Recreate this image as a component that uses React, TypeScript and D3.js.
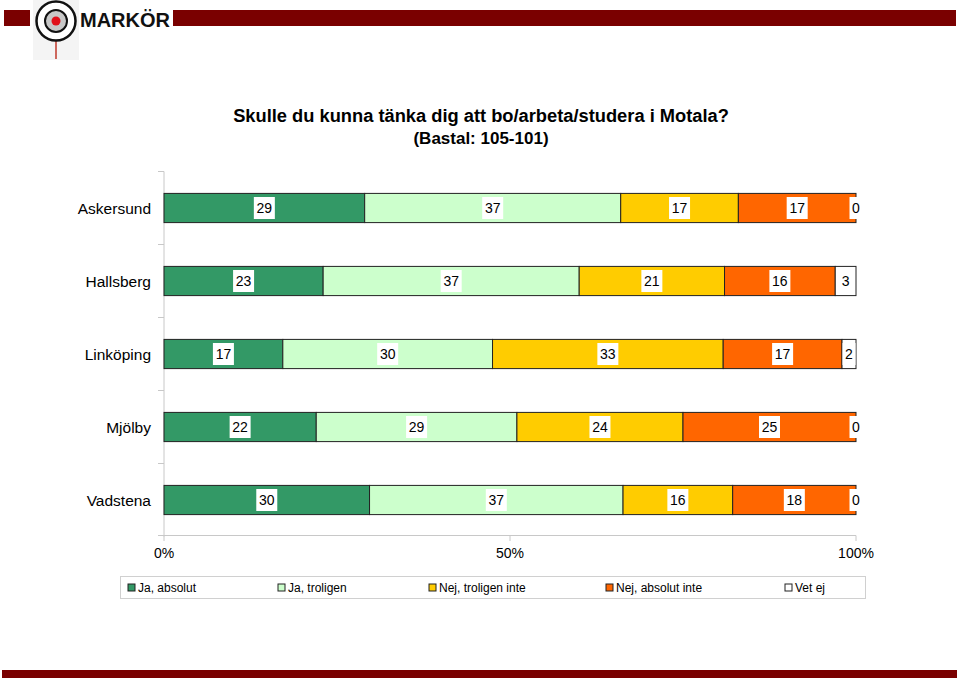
import React, { useRef, useEffect } from "react";
import * as d3 from "d3";

// answer categories (series) and towns
const seriesNames = ["Ja, absolut", "Ja, troligen", "Nej, troligen inte", "Nej, absolut inte", "Vet ej"];
const seriesColors = ["#339966", "#CCFFCC", "#FFCC00", "#FF6600", "#FFFFFF"];
const towns = ["Askersund", "Hallsberg", "Linköping", "Mjölby", "Vadstena"];

// percentages per town, in series order
const askersund = [29, 37, 17, 17, 0];
const hallsberg = [23, 37, 21, 16, 3];
const linkoping = [17, 30, 33, 17, 2];
const mjolby = [22, 29, 24, 25, 0];
const vadstena = [30, 37, 16, 18, 0];

const xTicks = [0, 0.5, 1];

const W = 960;
const H = 681;
const FONT = "'Liberation Sans', Arial, sans-serif";

export default function App() {
  const svgRef = useRef<SVGSVGElement>(null);

  useEffect(() => {
    const svg = d3.select(svgRef.current);
    svg.selectAll("*").remove();

    const rows = [askersund, hallsberg, linkoping, mjolby, vadstena].map((vals, i) => {
      const r: any = { town: towns[i] };
      seriesNames.forEach((s, j) => (r[s] = vals[j]));
      return r;
    });

    // stacked 100% - each row normalised to its own sum
    const stacked = d3.stack<any>().keys(seriesNames).offset(d3.stackOffsetExpand)(rows);

    const x = d3.scaleLinear().domain([0, 1]).range([164, 856]);
    const y = d3.scaleBand().domain(towns).range([171.5, 536.5]).paddingInner(0.6).paddingOuter(0.3);
    const step = y.step();

    // header
    svg.append("rect").attr("x", 4).attr("y", 10).attr("width", 26).attr("height", 16).attr("fill", "#7a0000");
    svg.append("rect").attr("x", 173).attr("y", 10).attr("width", 783).attr("height", 16).attr("fill", "#7a0000");
    svg.append("rect").attr("x", 33).attr("y", 0).attr("width", 46).attr("height", 60).attr("fill", "#f4f4f4");
    svg.append("line").attr("x1", 56).attr("x2", 56).attr("y1", 22).attr("y2", 59).attr("stroke", "#c0392b").attr("stroke-width", 1.5);
    svg.append("circle").attr("cx", 56).attr("cy", 21).attr("r", 19.5).attr("fill", "#fff").attr("stroke", "#111").attr("stroke-width", 2.5);
    svg.append("circle").attr("cx", 56).attr("cy", 21).attr("r", 11).attr("fill", "#c8c8c8").attr("stroke", "#111").attr("stroke-width", 2);
    svg.append("circle").attr("cx", 56).attr("cy", 21).attr("r", 4.5).attr("fill", "#e0101a");
    svg.append("text").attr("x", 80).attr("y", 27).attr("font-family", FONT).attr("font-weight", "bold")
      .attr("font-size", 20).attr("textLength", 90).attr("fill", "#111").text("MARKÖR");

    // footer bar
    svg.append("rect").attr("x", 2).attr("y", 670).attr("width", 955).attr("height", 8).attr("fill", "#7a0000");

    // titles
    svg.append("text").attr("x", 481).attr("y", 122).attr("text-anchor", "middle").attr("font-family", FONT)
      .attr("font-weight", "bold").attr("font-size", 18.3).text("Skulle du kunna tänka dig att bo/arbeta/studera i Motala?");
    svg.append("text").attr("x", 481).attr("y", 144).attr("text-anchor", "middle").attr("font-family", FONT)
      .attr("font-weight", "bold").attr("font-size", 17).text("(Bastal: 105-101)");

    // axes
    const axisColor = "#c8c8c8";
    svg.append("line").attr("x1", 164).attr("x2", 164).attr("y1", 171.5).attr("y2", 536.5).attr("stroke", axisColor);
    towns.forEach((t, i) => {
      const yy = 171.5 + i * step;
      svg.append("line").attr("x1", 158).attr("x2", 164).attr("y1", yy).attr("y2", yy).attr("stroke", axisColor);
    });
    svg.append("line").attr("x1", 158).attr("x2", 856).attr("y1", 535.5).attr("y2", 535.5).attr("stroke", axisColor);
    xTicks.forEach((t) => {
      svg.append("line").attr("x1", x(t)).attr("x2", x(t)).attr("y1", 535.5).attr("y2", 541).attr("stroke", axisColor);
      svg.append("text").attr("x", x(t)).attr("y", 558).attr("text-anchor", "middle").attr("font-family", FONT)
        .attr("font-size", 14).text(d3.format(".0%")(t));
    });

    // town labels
    svg.append("g").selectAll("text").data(towns).join("text")
      .attr("x", 151).attr("y", (d) => y(d)! + y.bandwidth() / 2 + 5.5)
      .attr("text-anchor", "end").attr("font-family", FONT).attr("font-size", 15.5).text((d) => d);

    // bars
    const layers = svg.append("g").selectAll("g").data(stacked).join("g")
      .attr("fill", (d, i) => seriesColors[i]);
    layers.selectAll("rect").data((d) => d).join("rect")
      .attr("x", (d) => x(d[0])).attr("y", (d: any) => y(d.data.town)!)
      .attr("width", (d) => x(d[1]) - x(d[0])).attr("height", y.bandwidth())
      .attr("stroke", "#222").attr("stroke-width", 1);

    // value labels
    stacked.forEach((layer, i) => {
      layer.forEach((d: any) => {
        const v = d.data[seriesNames[i]];
        const cx = (x(d[0]) + x(d[1])) / 2;
        const cy = y(d.data.town)! + y.bandwidth() / 2;
        const txt = String(v);
        const tw = txt.length * 8 + 5;
        svg.append("rect").attr("x", cx - tw / 2).attr("y", cy - 11).attr("width", tw).attr("height", 22).attr("fill", "#fff");
        svg.append("text").attr("x", cx).attr("y", cy + 5).attr("text-anchor", "middle").attr("font-family", FONT)
          .attr("font-size", 14).text(txt);
      });
    });

    // legend
    svg.append("rect").attr("x", 120.5).attr("y", 576.5).attr("width", 745).attr("height", 22).attr("fill", "#fff").attr("stroke", "#d0d0d0");
    const legendX = [128, 278, 429, 606, 785];
    seriesNames.forEach((s, i) => {
      svg.append("rect").attr("x", legendX[i]).attr("y", 584).attr("width", 7).attr("height", 7)
        .attr("fill", seriesColors[i]).attr("stroke", "#222");
      svg.append("text").attr("x", legendX[i] + 10).attr("y", 592).attr("font-family", FONT).attr("font-size", 12).text(s);
    });
  }, []);

  return (
    <div style={{ position: "absolute", left: 0, top: 0 }}>
      <svg ref={svgRef} width={W} height={H} style={{ display: "block" }} />
    </div>
  );
}
